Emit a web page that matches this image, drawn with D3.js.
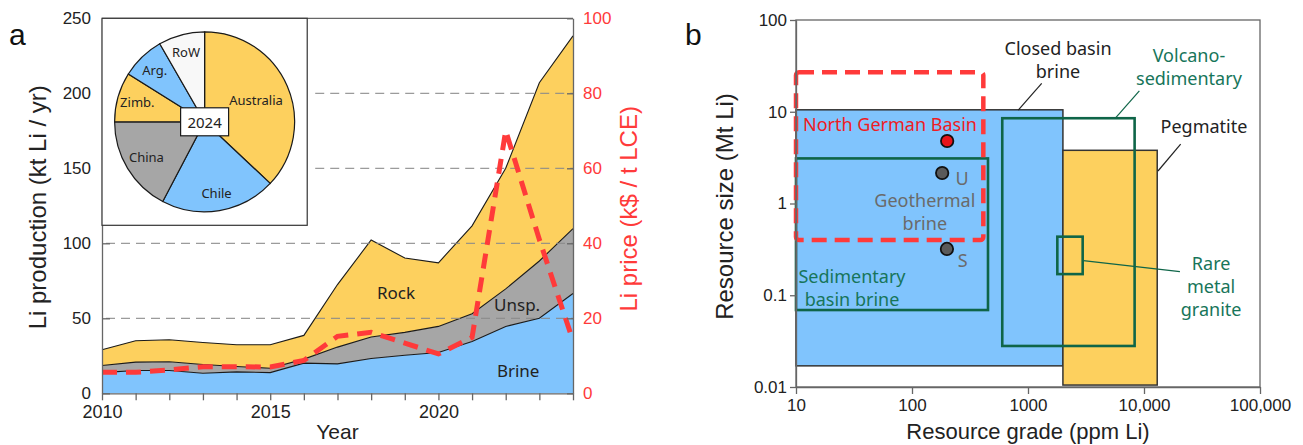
<!DOCTYPE html>
<html><head><meta charset="utf-8">
<script src="https://cdn.jsdelivr.net/npm/d3@7"></script>
<style>body{margin:0;background:#fff} svg{display:block}</style>
</head><body>
<svg id="c" width="1303" height="445"></svg>
<script>
// ---------- Panel a data ----------
const years = [2010,2011,2012,2013,2014,2015,2016,2017,2018,2019,2020,2021,2022,2023,2024];
const brine = [13.8,15.2,15.2,13.4,14.3,13.8,20.1,19.6,23.2,25.4,27.2,34.6,44.6,50.0,66.5];
const unsp  = [4.7,5.6,5.8,5.8,3.6,2.9,2.7,11.2,14.3,15.2,17.4,18.5,25.0,38.2,43.3];
const rock  = [10.5,14.2,14.7,14.7,14.5,15.7,15.8,41.7,64.7,49.6,42.4,58.5,80.4,118.8,128.5];
const price = [5.6,5.6,6.25,7.1,7.1,7.0,8.75,15.2,16.25,13.4,10.5,14.9,70,41,14];
const prodTicks = [0,50,100,150,200,250];
const priceTicks = [0,20,40,60,80,100];
const gridTicks = [50,100,150,200];
const yearLabels = [2010,2015,2020];
const seriesNames = ["Brine","Unsp","Rock"];
const seriesLabels = ["Brine","Unsp.","Rock"];
const seriesLabelYear = [2022.37,2022.34,2018.74];
const seriesLabelVal = [15.5,59,67.5];

// pie (2024 shares, %)
const pieNames = ["Australia","Chile","China","Zimb.","Arg.","RoW"];
const pieShares = [37.0,20.7,17.3,8.9,7.8,8.3];
const pieYear = "2024";

// ---------- Panel b data ----------
const boxNames = ["Closed basin brine","Pegmatite","Volcano-sedimentary","Sedimentary basin brine","Rare metal granite","North German Basin"];
const gradeLo = [10,2000,600,10,1790,10];
const gradeHi = [2000,13000,8300,452,2960,412];
const sizeLo  = [0.017,0.0105,0.028,0.069,0.17,0.4];
const sizeHi  = [10.5,3.8,8.5,3.1,0.435,27];
const pointNames = ["North German Basin","U","S"];
const pointGrade = [201,182,200];
const pointSize  = [4.8,2.15,0.32];
const gradeTicks = [10,100,1000,10000,100000];
const gradeTickLabels = ["10","100","1000","10,000","100,000"];
const sizeTicks = [0.01,0.1,1,10,100];
const sizeTickLabels = ["0.01","0.1","1","10","100"];

// ---------- styles ----------
const FA = "'Liberation Sans', Arial, sans-serif";
const FL = "'Noto Sans', 'Open Sans', sans-serif";
const C = {blue:"#80C4FD", yellow:"#FDD05E", gray:"#A6A6A6", white:"#F8F8F8",
           red:"#FF3A3A", redText:"#EE1C24", green:"#0F6548", greenText:"#17755A",
           axis:"#666", grid:"#8a8a8a", text:"#222", grayText:"#6a6a6a"};

const svg = d3.select("#c");

// ================= Panel a =================
const xA = d3.scaleLinear().domain([2010,2024]).range([102,573]);
const yA = d3.scaleLinear().domain([0,250]).range([393.3,18.3]);
const yP = d3.scaleLinear().domain([0,100]).range([393.3,18.3]);

const table = years.map((y,i)=>({year:y, Brine:brine[i], Unsp:unsp[i], Rock:rock[i]}));
const stacked = d3.stack().keys(seriesNames)(table);
const fillOf = {Brine:C.blue, Unsp:C.gray, Rock:C.yellow};
const area = d3.area().x(d=>xA(d.data.year)).y0(d=>yA(d[0])).y1(d=>yA(d[1]));
const topLine = d3.line().x(d=>xA(d.data.year)).y(d=>yA(d[1]));

const gA = svg.append("g");
gA.selectAll("path.area").data(stacked).join("path")
  .attr("d", area).attr("fill", d=>fillOf[d.key]);
gA.selectAll("path.top").data(stacked).join("path")
  .attr("d", d=>topLine(d)).attr("fill","none").attr("stroke","#1a1a1a").attr("stroke-width",1.1);

// inset geometry (in data space)
const insetYearR = 2016.1, insetValB = 112;
// grid
gA.selectAll("line.grid").data(gridTicks).join("line")
  .attr("x1", d=> d>insetValB ? xA(insetYearR)+8 : xA(2010)+4)
  .attr("x2", xA(2024)).attr("y1", d=>yA(d)).attr("y2", d=>yA(d))
  .attr("stroke", C.grid).attr("stroke-opacity",0.85).attr("stroke-width",1.2).attr("stroke-dasharray","9,6");

// price line
const pLine = d3.line().x((d,i)=>xA(years[i])).y(d=>yP(d));
gA.append("path").attr("d", pLine(price)).attr("fill","none")
  .attr("stroke", C.red).attr("stroke-width",5).attr("stroke-dasharray","15,9");

// series labels
gA.selectAll("text.sl").data(seriesLabels).join("text")
  .attr("x",(d,i)=>xA(seriesLabelYear[i])).attr("y",(d,i)=>yA(seriesLabelVal[i]))
  .attr("text-anchor","middle").attr("dominant-baseline","central")
  .attr("font-family",FL).attr("font-size",17).attr("fill",C.text).text(d=>d);

// top frame
gA.append("line").attr("x1",xA(2010)).attr("x2",xA(2024)).attr("y1",yA(250)).attr("y2",yA(250))
  .attr("stroke",C.axis).attr("stroke-width",1.2);

// axes
function styleAxis(g, textColor, fs){
  g.select(".domain").attr("stroke",C.axis).attr("stroke-width",1.3);
  g.selectAll(".tick line").attr("stroke",C.axis).attr("stroke-width",1.3);
  g.selectAll("text").attr("fill",textColor).attr("font-family",FA).attr("font-size",fs);
}
const axL = svg.append("g").attr("transform",`translate(${xA(2010)},0)`)
  .call(d3.axisLeft(yA).tickValues(prodTicks).tickSizeInner(-8).tickSizeOuter(0).tickPadding(11));
styleAxis(axL, C.text, 17);
const axR = svg.append("g").attr("transform",`translate(${xA(2024)},0)`)
  .call(d3.axisRight(yP).tickValues(priceTicks).tickSizeInner(-6).tickSizeOuter(0).tickPadding(10));
styleAxis(axR, C.red, 17);
const axB = svg.append("g").attr("transform",`translate(0,${yA(0)})`)
  .call(d3.axisBottom(xA).tickValues(years).tickSizeInner(7).tickSizeOuter(0).tickPadding(5)
  .tickFormat(d=> yearLabels.includes(d) ? String(d) : ""));
styleAxis(axB, C.text, 18);

// axis titles
svg.append("text").attr("transform",`translate(46,${yA(124)}) rotate(-90)`)
  .attr("text-anchor","middle")
  .attr("font-family",FA).attr("font-size",24).attr("fill",C.text).text("Li production (kt Li / yr)");
svg.append("text").attr("transform",`translate(637,${yA(123)}) rotate(-90)`)
  .attr("text-anchor","middle")
  .attr("font-family",FA).attr("font-size",24).attr("fill",C.red).text("Li price (k$ / t LCE)");
svg.append("text").attr("x",xA(2017)).attr("y",439).attr("text-anchor","middle")
  .attr("font-family",FA).attr("font-size",21).attr("fill",C.text).text("Year");
svg.append("text").attr("x",9).attr("y",45)
  .attr("font-family",FA).attr("font-size",30).attr("fill","#111").text("a");

// inset
const insL = xA(2010), insT = yA(250), insR = xA(insetYearR), insB = yA(insetValB);
svg.append("rect").attr("x",insL).attr("y",insT).attr("width",insR-insL).attr("height",insB-insT)
  .attr("fill","#fff").attr("stroke","#333").attr("stroke-width",1.2);
const pcx = (insL+insR)/2, pcy = (insT+insB)/2, pr = 90;
const pie = d3.pie().sort(null).value(d=>d)(pieShares);
const arc = d3.arc().innerRadius(0).outerRadius(pr);
const pieFill = [C.yellow, C.blue, C.gray, C.yellow, C.blue, C.white];
const labelR = [56,72,68,70,72,72];
const gP = svg.append("g").attr("transform",`translate(${pcx},${pcy})`);
gP.selectAll("path").data(pie).join("path").attr("d",arc)
  .attr("fill",(d,i)=>pieFill[i]).attr("stroke","#1a1a1a").attr("stroke-width",1.2);
gP.selectAll("text").data(pie).join("text")
  .attr("x",(d,i)=>d3.arc().innerRadius(labelR[i]).outerRadius(labelR[i]).centroid(d)[0])
  .attr("y",(d,i)=>d3.arc().innerRadius(labelR[i]).outerRadius(labelR[i]).centroid(d)[1])
  .attr("text-anchor","middle").attr("dominant-baseline","central")
  .attr("font-family",FL).attr("font-size",13).attr("fill",C.text).text((d,i)=>pieNames[i]);
gP.append("rect").attr("x",-24).attr("y",-14).attr("width",48).attr("height",28)
  .attr("fill","#fff").attr("stroke","#1a1a1a").attr("stroke-width",1.2);
gP.append("text").attr("text-anchor","middle").attr("dominant-baseline","central")
  .attr("font-family",FL).attr("font-size",15).attr("fill",C.text).text(pieYear);

// ================= Panel b =================
const xB = d3.scaleLog().domain([10,100000]).range([796,1260]);
const yB = d3.scaleLog().domain([0.01,100]).range([387,20]);
const gB = svg.append("g");

const boxStyle = [
  {fill:C.blue, stroke:"#333", sw:1.5, dash:null},
  {fill:C.yellow, stroke:"#333", sw:1.5, dash:null},
  {fill:"none", stroke:C.green, sw:2.6, dash:null},
  {fill:"none", stroke:C.green, sw:2.6, dash:null},
  {fill:"none", stroke:C.green, sw:2.6, dash:null},
  {fill:"none", stroke:C.red, sw:4.5, dash:"15,8"}
];
gB.selectAll("rect.box").data(boxNames).join("rect")
  .attr("x",(d,i)=>xB(gradeLo[i])).attr("y",(d,i)=>yB(sizeHi[i]))
  .attr("width",(d,i)=>xB(gradeHi[i])-xB(gradeLo[i]))
  .attr("height",(d,i)=>yB(sizeLo[i])-yB(sizeHi[i]))
  .attr("rx",(d,i)=>i===5?3:0)
  .attr("fill",(d,i)=>boxStyle[i].fill).attr("stroke",(d,i)=>boxStyle[i].stroke)
  .attr("stroke-width",(d,i)=>boxStyle[i].sw).attr("stroke-dasharray",(d,i)=>boxStyle[i].dash);

const ptFill = ["#E8141B","#5a5a5a","#5a5a5a"];
gB.selectAll("circle").data(pointNames).join("circle")
  .attr("cx",(d,i)=>xB(pointGrade[i])).attr("cy",(d,i)=>yB(pointSize[i])).attr("r",6.2)
  .attr("fill",(d,i)=>ptFill[i]).attr("stroke","#111").attr("stroke-width",1.8);

// frame
gB.append("rect").attr("x",xB(10)).attr("y",yB(100)).attr("width",xB(100000)-xB(10)).attr("height",yB(0.01)-yB(100))
  .attr("fill","none").attr("stroke",C.axis).attr("stroke-width",1.3);

const axBL = svg.append("g").attr("transform",`translate(${xB(10)},0)`)
  .call(d3.axisLeft(yB).tickValues(sizeTicks).tickFormat((d,i)=>sizeTickLabels[i]).tickSizeInner(6).tickSizeOuter(0).tickPadding(3));
styleAxis(axBL, C.text, 17);
const axBB = svg.append("g").attr("transform",`translate(0,${yB(0.01)})`)
  .call(d3.axisBottom(xB).tickValues(gradeTicks).tickFormat((d,i)=>gradeTickLabels[i]).tickSizeInner(7).tickSizeOuter(0).tickPadding(5));
styleAxis(axBB, C.text, 17);

svg.append("text").attr("transform",`translate(733,${yB(1)+3}) rotate(-90)`)
  .attr("text-anchor","middle")
  .attr("font-family",FA).attr("font-size",24).attr("fill",C.text).text("Resource size (Mt Li)");
svg.append("text").attr("x",xB(1000)).attr("y",439).attr("text-anchor","middle")
  .attr("font-family",FA).attr("font-size",22).attr("fill",C.text).text("Resource grade (ppm Li)");
svg.append("text").attr("x",685).attr("y",45)
  .attr("font-family",FA).attr("font-size",30).attr("fill","#111").text("b");

// annotation labels (data space)
const labTxt   = ["North German Basin","U","S","Geothermal","brine","Sedimentary","basin brine","Closed basin","brine","Volcano-","sedimentary","Pegmatite","Rare","metal","granite"];
const labGrade = [11.5,270,273,129,129,30.4,30.4,1815,1815,24400,24400,32900,37900,37900,37900];
const labSize  = [7.35,1.9,0.242,1.09,0.613,0.162,0.091,49.5,27.8,41.6,23.3,7.0,0.2247,0.126,0.0708];
const labColor = [C.redText,C.grayText,C.grayText,C.grayText,C.grayText,C.greenText,C.greenText,C.text,C.text,C.greenText,C.greenText,C.text,C.greenText,C.greenText,C.greenText];
const labAnchor= ["start","middle","middle","middle","middle","middle","middle","middle","middle","middle","middle","middle","middle","middle","middle"];
gB.selectAll("text.lab").data(labTxt).join("text")
  .attr("x",(d,i)=>xB(labGrade[i])).attr("y",(d,i)=>yB(labSize[i]))
  .attr("text-anchor",(d,i)=>labAnchor[i]).attr("dominant-baseline","central")
  .attr("font-family",FL).attr("font-size",18).attr("fill",(d,i)=>labColor[i]).text(d=>d);

// leader lines (data space)
const ldG1 = [1312,9120,20700,3000], ldG2 = [824,5740,13200,20400];
const ldS1 = [20.4,16.9,4.45,0.238], ldS2 = [10.4,8.7,2.26,0.181];
const ldColor = ["#222",C.green,"#222",C.green];
gB.selectAll("line.ld").data(ldG1).join("line")
  .attr("x1",(d,i)=>xB(ldG1[i])).attr("y1",(d,i)=>yB(ldS1[i]))
  .attr("x2",(d,i)=>xB(ldG2[i])).attr("y2",(d,i)=>yB(ldS2[i]))
  .attr("stroke",(d,i)=>ldColor[i]).attr("stroke-width",1.2);
</script>
</body></html>
